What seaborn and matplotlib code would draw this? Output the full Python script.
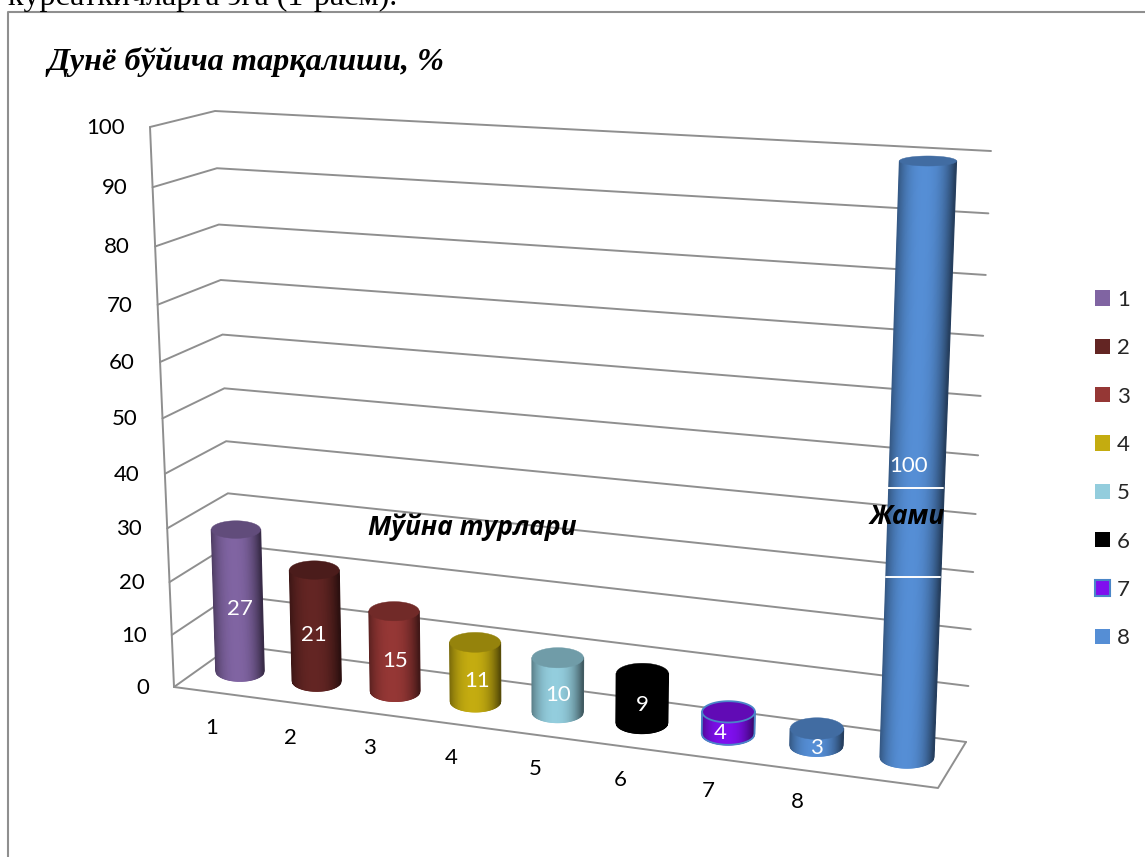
import numpy as np
import pandas as pd
import seaborn as sns
import matplotlib
matplotlib.use("Agg")
import matplotlib.pyplot as plt
from matplotlib.collections import PolyCollection
from matplotlib.patches import Polygon
from matplotlib.transforms import Transform

# ---- data -------------------------------------------------------------
categories = ["1", "2", "3", "4", "5", "6", "7", "8", "Жами"]
series = ["1", "2", "3", "4", "5", "6", "7", "8", "8"]
values = [27, 21, 15, 11, 10, 9, 4, 3, 100]
y_ticks = [0, 10, 20, 30, 40, 50, 60, 70, 80, 90, 100]
x_tick_labels = ["1", "2", "3", "4", "5", "6", "7", "8"]
title_text = "Дунё бўйича тарқалиши, %"
clipped_text = "кўрсаткичларга эга (1-расм)."
axis_text = "Мўйна турлари"
total_text = "Жами"
colors = ["#8064A2", "#632523", "#953735", "#C4AC10", "#93CDDD", "#000000", "#7F0FEE", "#558ED5"]

# ---- styles -----------------------------------------------------------
GRID = "#8f8f8f"
EDGE7 = "#4A86C8"
LABEL_FONT = ["Lato", "Open Sans", "DejaVu Sans"]
BOLD_FONT = ["Open Sans", "DejaVu Sans"]
SERIF = ["Liberation Serif", "DejaVu Serif"]
LABEL_DX = [2, -2, 0, 2, 0, 0, -8, 0, -9]
LABEL_DY = [8, 9, 10, 9, 10, 7, 10, 11, -1]
TEXT_PT = 16
BAR_W = 0.5


def homography(src, dst):
    A, b = [], []
    for (x, y), (u, v) in zip(src, dst):
        A.append([x, y, 1, 0, 0, 0, -u * x, -u * y]); b.append(u)
        A.append([0, 0, 0, x, y, 1, -v * x, -v * y]); b.append(v)
    return np.append(np.linalg.solve(np.array(A, float), np.array(b, float)), 1).reshape(3, 3)


def apply(H, pts):
    pts = np.atleast_2d(np.asarray(pts, float))
    q = np.c_[pts, np.ones(len(pts))] @ H.T
    return q[:, :2] / q[:, 2:]


class Projective(Transform):
    input_dims = output_dims = 2
    has_inverse = False

    def __init__(self, H):
        super().__init__()
        self.H = H

    def transform_non_affine(self, values):
        return apply(self.H, values)


# calibration of the 3-D scene: (category position, value) -> picture position
BARS = homography([(0, 0), (8, 0), (8, 100), (0, 100)],
                  [(240, 671), (907, 757), (928, 161), (224.4, 127.3)])
BACK = homography([(0, 0), (1, 0), (1, 100), (0, 100)],
                  [(233, 645), (966, 742), (991, 151), (215, 111)])
SIDE = homography([(0, 0), (1, 0), (1, 100), (0, 100)],
                  [(174, 687), (233, 645), (215, 111), (150, 127)])

sns.set_theme(style="white")
plt.rcParams["font.family"] = LABEL_FONT
fig = plt.figure(figsize=(11.45, 8.57), dpi=100, facecolor="white")
ax = fig.add_axes([0, 0, 1, 1])

df = pd.DataFrame({"category": categories, "series": series, "value": values})
sns.barplot(data=df, x="category", y="value", hue="series", order=categories,
            hue_order=x_tick_labels, palette=colors, saturation=1, dodge=False,
            width=BAR_W, linewidth=0, ax=ax, zorder=3)
ax.set_xlim(0, 1145)
ax.set_ylim(857, 0)
ax.set_xticks([])
ax.set_yticks([])
ax.set_xlabel("")
ax.set_ylabel("")
for s in ax.spines.values():
    s.set_visible(False)

# frame and clipped text line
ax.plot([8, 8, 1145], [857, 12, 12], color=GRID, lw=1.5, zorder=1)
ax.text(8, 5, clipped_text, family=SERIF, fontsize=23, color="black", va="baseline")
ax.text(47, 70, title_text, family=SERIF, fontsize=23.2, weight="bold", style="italic",
        color="black", va="baseline")

# walls and gridlines
for v in y_ticks:
    a, b = apply(SIDE, [(0, v), (1, v)])
    c = apply(BACK, [(1, v)])[0]
    ax.plot([a[0], b[0], c[0]], [a[1], b[1], c[1]], color=GRID, lw=1.4, zorder=1,
            solid_joinstyle="miter")
    ax.text(a[0] - 25, a[1] + 1, str(v), ha="right", va="center", fontsize=TEXT_PT, color="black")
front = apply(SIDE, [(0, 0)])[0]
ax.plot([front[0], 938, 966], [front[1], 788, 742], color=GRID, lw=1.4, zorder=1)
ax.plot([150, 174], [127, 687], color=GRID, lw=1.4, zorder=1)


def semi_b(y):
    return 5 + (y - 158) * 0.0102


def shaded(col, t):
    rgb = np.array(matplotlib.colors.to_rgb(col))
    return tuple(rgb * (1 - 0.48 * abs(t + 0.08) ** 2.4))


# cylinders: every seaborn bar supplies its position and height
proj = Projective(BARS)
for p in list(ax.patches):
    v = p.get_height()
    if not v > 0:
        p.set_visible(False)
        continue
    p.set_transform(proj + ax.transData)
    xc = p.get_x() + p.get_width() / 2
    i = int(round(xc))
    col = matplotlib.colors.to_hex(p.get_facecolor())
    ts = np.linspace(-1, 1, 61)
    c_bot = apply(BARS, [(xc, 0)])[0]
    c_top = apply(BARS, [(xc, v)])[0]
    hw_bot = p.get_width() / 2 * (97 + 1.4 * i)
    hw_top = p.get_width() / 2 * (97 + 1.4 * i + 0.06 * v)
    bot = np.c_[c_bot[0] + ts * hw_bot, c_bot[1] + semi_b(c_bot[1]) * np.sqrt(np.clip(1 - ts ** 2, 0, 1))]
    top = np.c_[c_top[0] + ts * hw_top, np.full_like(ts, c_top[1])]
    polys, cols = [], []
    for k in range(len(ts) - 1):
        polys.append([bot[k], bot[k + 1], top[k + 1], top[k]])
        cols.append(shaded(col, (ts[k] + ts[k + 1]) / 2))
    ax.add_collection(PolyCollection(polys, facecolors=cols, edgecolors=cols, linewidths=0.8, zorder=4))
    th = np.linspace(0, 2 * np.pi, 90)
    bt = semi_b(c_top[1])
    ell = np.c_[c_top[0] + hw_top * np.cos(th), c_top[1] + bt * np.sin(th)]
    top_col = tuple(np.array(matplotlib.colors.to_rgb(col)) * 0.76)
    is_seven = col.lower() == colors[6].lower()
    ax.add_patch(Polygon(ell, closed=True, facecolor=top_col,
                         edgecolor=EDGE7 if is_seven else top_col,
                         lw=1.3 if is_seven else 0.3, zorder=5))
    if is_seven:
        outline = np.r_[top[:1], bot, top[-1:]]
        ax.plot(outline[:, 0], outline[:, 1], color=EDGE7, lw=1.3, zorder=5)
    mid = apply(BARS, [(xc, v / 2)])[0]
    ax.text(mid[0] + LABEL_DX[i], mid[1] + LABEL_DY[i], f"{values[i]}", color="white", ha="center",
            va="center", fontsize=TEXT_PT, zorder=7)

# category labels under the floor
for i, lab in enumerate(x_tick_labels):
    base = apply(BARS, [(i, 0)])[0]
    ax.text(base[0] - 28 + 1.3 * i, base[1] + 57, lab, ha="center", va="center",
            fontsize=TEXT_PT, color="black", zorder=6)

# white outline of the data-label box on the tall bar
for y, x0, x1 in [(488, 888, 943), (577, 886, 940)]:
    ax.plot([x0, x1], [y, y], color="white", lw=1.4, zorder=6)

ax.text(472, 527, axis_text, family=BOLD_FONT, fontsize=19, weight="bold", style="italic",
        ha="center", va="center", color="black", zorder=8)
ax.text(907, 517, total_text, family=BOLD_FONT, fontsize=19, weight="bold", style="italic",
        ha="center", va="center", color="black", zorder=8)

# legend
sns.move_legend(ax, "center left", bbox_to_anchor=(1095 / 1145, 1 - 469 / 857), title=None,
                frameon=False, fontsize=TEXT_PT, handlelength=0.68, handleheight=0.68,
                labelspacing=1.275, handletextpad=0.3, borderpad=0, borderaxespad=0)
leg = ax.get_legend()
leg.get_patches()[6].set(edgecolor=EDGE7, linewidth=1.5)

fig.savefig("out.png", dpi=100)
